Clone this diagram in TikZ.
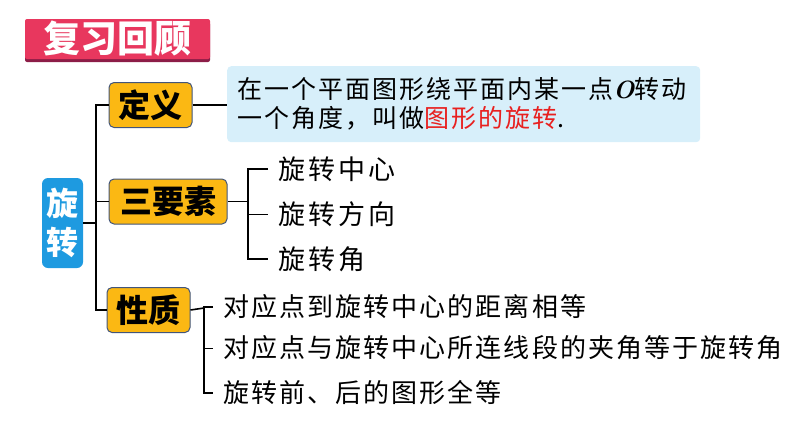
\documentclass[tikz,border=0pt]{standalone}
\usepackage{fontspec}
\usepackage{xcolor}
\usepackage{tikz}
\usetikzlibrary{positioning}

\newfontfamily\cjk{Noto Sans CJK SC}
\newfontfamily\cjkwide{Noto Sans CJK SC}[LetterSpace=8]

\definecolor{titlered}{HTML}{E8375E}
\definecolor{titleshade}{HTML}{8C1D47}
\definecolor{rotblue}{HTML}{1E9AE0}
\definecolor{keyorange}{HTML}{FBB813}
\definecolor{keyedge}{HTML}{42557A}
\definecolor{defblue}{HTML}{D7EFFA}
\definecolor{keyred}{HTML}{E8201F}

\begin{document}
\begin{tikzpicture}[x=1pt, y=-1pt,
    banner/.style = {minimum width=185pt, minimum height=40pt, inner sep=0pt,
                     rounded corners=2pt},
    keybox/.style = {fill=keyorange, draw=keyedge, line width=1pt, rounded corners=5pt,
                     minimum height=45pt, inner sep=2pt,
                     font=\cjk\bfseries\fontsize{32}{34}\selectfont},
    item/.style   = {anchor=west, inner sep=0pt},
    link/.style   = {line width=1.6pt},
    thin link/.style = {line width=1pt}]
  \useasboundingbox (0,0) rectangle (794,447);

  % title
  \node[banner, fill=titleshade] (shade) at (117.5,42) {};
  \node[banner, fill=titlered, text=white,
        font=\cjk\bfseries\fontsize{37}{40}\selectfont] (title) at (117.5,39) {复习回顾};

  % root
  \node[fill=rotblue, rounded corners=6pt, text=white, minimum width=41pt,
        minimum height=90pt, inner sep=0pt, align=center,
        font=\cjk\bfseries\fontsize{32}{39}\selectfont] (rot) at (62.5,223) {旋\\转};

  % branches
  \node[keybox, minimum width=83pt] (def) at (150.5,105) {定义};
  \node[keybox, minimum width=118pt] (elem) at (168,201.5) {三要素};
  \node[keybox, minimum width=83pt] (prop) at (148.5,310) {性质};

  \coordinate (tr) at (96,223);
  \draw[link] (rot.east) -- (tr);
  \draw[link] (def.west) -| (tr) |- (prop.west);
  \draw[link] (elem.west) -- (elem.west -| tr);

  % definition
  \node[fill=defblue, rounded corners=4pt, anchor=north west, minimum width=473pt,
        minimum height=76pt, text width=453pt, inner sep=10pt, align=left,
        font=\cjkwide\fontsize{25}{29}\selectfont] (defbox) at (227,66)
    {在一个平面图形绕平面内某一点{\normalfont\bfseries\itshape O}转动\\
     一个角度，叫做\textcolor{keyred}{图形的旋转}.};
  \draw[link] (def.east) -- (def.east -| defbox.west);

  % three elements
  \node[item, font=\cjkwide\fontsize{27}{30}\addfontfeature{LetterSpace=11}\selectfont] (e1) at (278,169) {旋转中心};
  \node[item, font=\cjkwide\fontsize{27}{30}\addfontfeature{LetterSpace=11}\selectfont] (e2) at (278,214) {旋转方向};
  \node[item, font=\cjkwide\fontsize{27}{30}\addfontfeature{LetterSpace=11}\selectfont] (e3) at (278,259) {旋转角};

  \coordinate (eb) at (248,201.5);
  \draw[link] (elem.east) -- (eb);
  \draw[link] ([xshift=-10pt]e1.west) -| (eb |- e3.west) -- ([xshift=-10pt]e3.west);
  \draw[thin link] (eb |- e2.west) -- ([xshift=-10pt]e2.west);

  % properties
  \node[item, font=\cjkwide\fontsize{26}{28}\selectfont] (p1) at (223,307) {对应点到旋转中心的距离相等};
  \node[item, font=\cjkwide\fontsize{26}{28}\selectfont] (p2) at (223,348) {对应点与旋转中心所连线段的夹角等于旋转角};
  \node[item, font=\cjkwide\fontsize{26}{28}\selectfont] (p3) at (223,393) {旋转前、后的图形全等};

  \coordinate (pb) at (204,308);
  \draw[link] (prop.east) -- (pb);
  \draw[link] ([xshift=-10pt]p1.west) -| (pb |- p3.west) -- ([xshift=-10pt]p3.west);
  \draw[thin link] (pb |- p2.west) -- ([xshift=-10pt]p2.west);
\end{tikzpicture}
\end{document}
